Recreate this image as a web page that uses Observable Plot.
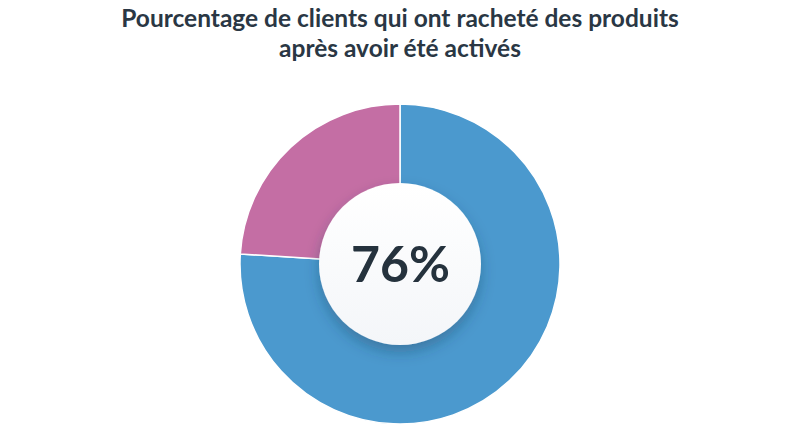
<!DOCTYPE html>
<html>
<head>
<meta charset="utf-8">
<script src="https://cdn.jsdelivr.net/npm/d3@7"></script>
<script src="https://cdn.jsdelivr.net/npm/@observablehq/plot@0.6"></script>
<style>
  html, body { margin: 0; padding: 0; background: #ffffff; }
  #title { width: 800px; text-align: center; font-family: Lato, "Open Sans", sans-serif; font-weight: 700; font-size: 24.5px; line-height: 30px; color: #2a3744; padding-top: 3px; padding-bottom: 12px; }
  #chart svg { display: block; }
</style>
</head>
<body>
<div id="title">Pourcentage de clients qui ont racheté des produits<br>après avoir été activés</div>
<div id="chart"></div>
<script>
const categories = ["Ont racheté", "N'ont pas racheté"];
const values = [76, 24];
const centerLabel = ["76%"];

const sliceColors = ["#4b99ce", "#c46ea4"];
const data = categories.map((c, i) => ({category: c, value: values[i]}));
const colorScale = Plot.scale({color: {type: "ordinal", domain: categories, range: sliceColors}});

function donut(index, scales) {
  const cx = scales.x(0), cy = scales.y(0);
  const R = scales.x(1) - cx;
  const arcs = d3.pie().sort(null).value(d => d.value)(data);
  const arc = d3.arc().innerRadius(R * 0.45).outerRadius(R);
  const g = d3.create("svg:g");
  const defs = g.append("defs");
  const f = defs.append("filter").attr("id", "shadow").attr("x", "-50%").attr("y", "-50%").attr("width", "200%").attr("height", "200%");
  f.append("feDropShadow").attr("dx", 0).attr("dy", 7).attr("stdDeviation", 7).attr("flood-color", "#1b3a57").attr("flood-opacity", 0.35);
  const lg = defs.append("linearGradient").attr("id", "inner").attr("x1", 0).attr("y1", 0).attr("x2", 0).attr("y2", 1);
  lg.append("stop").attr("offset", "0%").attr("stop-color", "#ffffff");
  lg.append("stop").attr("offset", "100%").attr("stop-color", "#f4f6f9");
  const pg = g.append("g").attr("transform", `translate(${cx},${cy})`);
  pg.selectAll("path").data(arcs).join("path")
    .attr("d", arc)
    .attr("fill", d => colorScale.apply(d.data.category))
    .attr("stroke", "#ffffff")
    .attr("stroke-width", 1.5);
  pg.append("circle").attr("r", R * 81 / 160).attr("fill", "url(#inner)").attr("filter", "url(#shadow)");
  return g.node();
}

const plot = Plot.plot({
  width: 800,
  height: 350,
  marginLeft: 240,
  marginRight: 240,
  marginTop: 29,
  marginBottom: 1,
  x: {domain: [-1, 1], axis: null},
  y: {domain: [-1, 1], axis: null},
  style: {background: "transparent"},
  marks: [
    donut,
    Plot.text(centerLabel, {x: () => 0, y: () => 0, text: d => d, fontSize: 50, fontWeight: 700, fill: "#25323d", fontFamily: "Lato, sans-serif", dy: 1})
  ]
});
document.getElementById("chart").appendChild(plot);
</script>
</body>
</html>
